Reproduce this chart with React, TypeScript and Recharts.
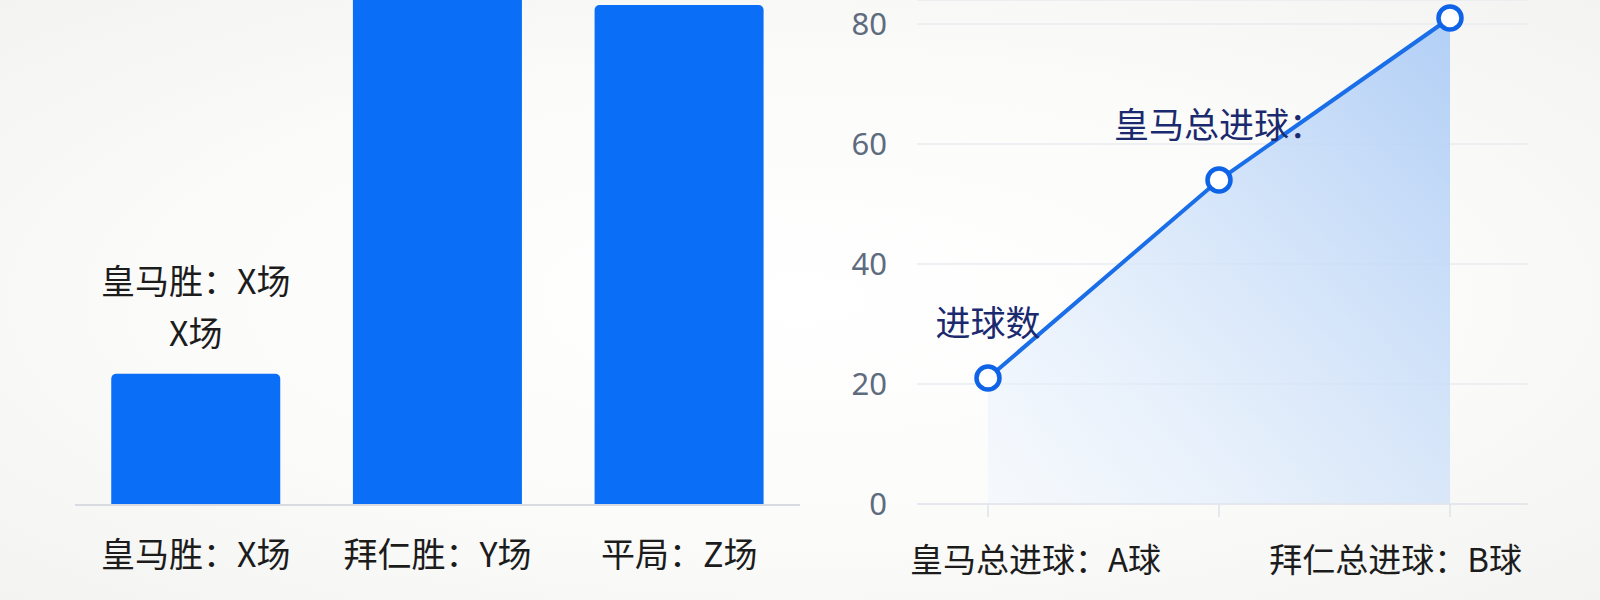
import {
  BarChart,
  Bar,
  AreaChart,
  Area,
  XAxis,
  YAxis,
  CartesianGrid,
  LabelList,
} from "recharts";

// left chart: match results
const resultLabels = ["皇马胜：X场", "拜仁胜：Y场", "平局：Z场"];
const resultValues = [26, 104, 99];
const resultNotes = [["皇马胜：X场", "X场"], [], []];

// right chart: goals
const goalLabels = ["皇马总进球：A球", "", "拜仁总进球：B球"];
const goalValues = [21, 54, 81];
const goalNotes = ["进球数", "皇马总进球：", ""];
const goalTicks = [0, 20, 40, 60, 80];

const FONT = '"Noto Sans CJK SC", "Noto Sans", sans-serif';

const barData = resultLabels.map((name, i) => ({ name, value: resultValues[i] }));
const goalData = goalLabels.map((name, i) => ({ name, value: goalValues[i] }));

function BarNote(props: any) {
  const { x, y, width, index } = props;
  const lines = resultNotes[index] || [];
  if (!lines.length) return null;
  const cx = x + width / 2;
  return (
    <text textAnchor="middle" fontSize={34} fill="#1c1c1c" fontFamily={FONT}>
      {lines.map((l, i) => (
        <tspan key={i} x={cx} y={y - 28 - (lines.length - 1 - i) * 52}>
          {l}
        </tspan>
      ))}
    </text>
  );
}

function GoalNote(props: any) {
  const { x, y, index } = props;
  const note = goalNotes[index];
  if (!note) return null;
  return (
    <text x={x} y={y - 42} textAnchor="middle" fontSize={35} fill="#1b2a6e" fontFamily={FONT}>
      {note}
    </text>
  );
}

function GoalTick(props: any) {
  const { x, y, payload, index } = props;
  const last = goalLabels.length - 1;
  if (index !== 0 && index !== last) return null;
  const anchor = index === 0 ? "start" : "end";
  const tx = index === 0 ? x - 78 : x + 72;
  return (
    <text x={tx} y={y + 53} textAnchor={anchor} fontSize={33} fill="#1c1c1c" fontFamily={FONT}>
      {payload.value}
    </text>
  );
}

export default function App() {
  return (
    <div
      style={{
        position: "absolute",
        left: 0,
        top: 0,
        width: 1600,
        height: 600,
        overflow: "hidden",
        background: "radial-gradient(ellipse at 50% 50%, #ffffff 0%, #fbfbfa 55%, #f3f3f1 100%)",
        fontFamily: FONT,
      }}
    >
      <div style={{ position: "absolute", left: 0, top: 0 }}>
        <BarChart
          width={800}
          height={600}
          data={barData}
          margin={{ top: 0, right: 0, bottom: 0, left: 75 }}
          barCategoryGap="15%"
        >
          <XAxis
            dataKey="name"
            height={95}
            tickLine={false}
            axisLine={{ stroke: "#d8dce2", strokeWidth: 2 }}
            tickMargin={32}
            tick={{ fontSize: 34, fill: "#1c1c1c", fontFamily: FONT }}
            interval={0}
          />
          <YAxis hide domain={[0, 100]} allowDataOverflow />
          <Bar dataKey="value" fill="#0a6ef6" radius={[5, 5, 0, 0]} isAnimationActive={false}>
            <LabelList dataKey="value" content={BarNote} />
          </Bar>
        </BarChart>
      </div>
      <div style={{ position: "absolute", left: 800, top: 0 }}>
        <AreaChart
          width={800}
          height={600}
          data={goalData}
          margin={{ top: 0, right: 72, bottom: 0, left: 0 }}
        >
          <defs>
            <linearGradient id="goalFill" x1="1" y1="0" x2="0" y2="1">
              <stop offset="0%" stopColor="#aecdf6" stopOpacity={0.95} />
              <stop offset="55%" stopColor="#d3e4fa" stopOpacity={0.75} />
              <stop offset="100%" stopColor="#eef5fe" stopOpacity={0.45} />
            </linearGradient>
          </defs>
          <CartesianGrid vertical={false} stroke="#e8ecf1" strokeWidth={1.5} />
          <XAxis
            dataKey="name"
            height={96}
            padding={{ left: 71, right: 78 }}
            tickSize={13}
            tickLine={{ stroke: "#dfe3e8", strokeWidth: 1.5 }}
            axisLine={{ stroke: "#e2e6eb", strokeWidth: 1.5 }}
            tick={GoalTick}
            interval={0}
          />
          <YAxis
            width={117}
            domain={[0, 84]}
            ticks={goalTicks}
            axisLine={false}
            tickLine={false}
            tickMargin={24}
            tick={{ fontSize: 31, fill: "#5f6b7e", fontFamily: '"Noto Sans", sans-serif' }}
          />
          <Area
            type="linear"
            dataKey="value"
            stroke="#1a6ee8"
            strokeWidth={4}
            fill="url(#goalFill)"
            fillOpacity={1}
            dot={{ r: 11.5, fill: "#ffffff", stroke: "#0f63e6", strokeWidth: 4.5 }}
            activeDot={false}
            isAnimationActive={false}
          >
            <LabelList dataKey="value" content={GoalNote} />
          </Area>
        </AreaChart>
      </div>
    </div>
  );
}
